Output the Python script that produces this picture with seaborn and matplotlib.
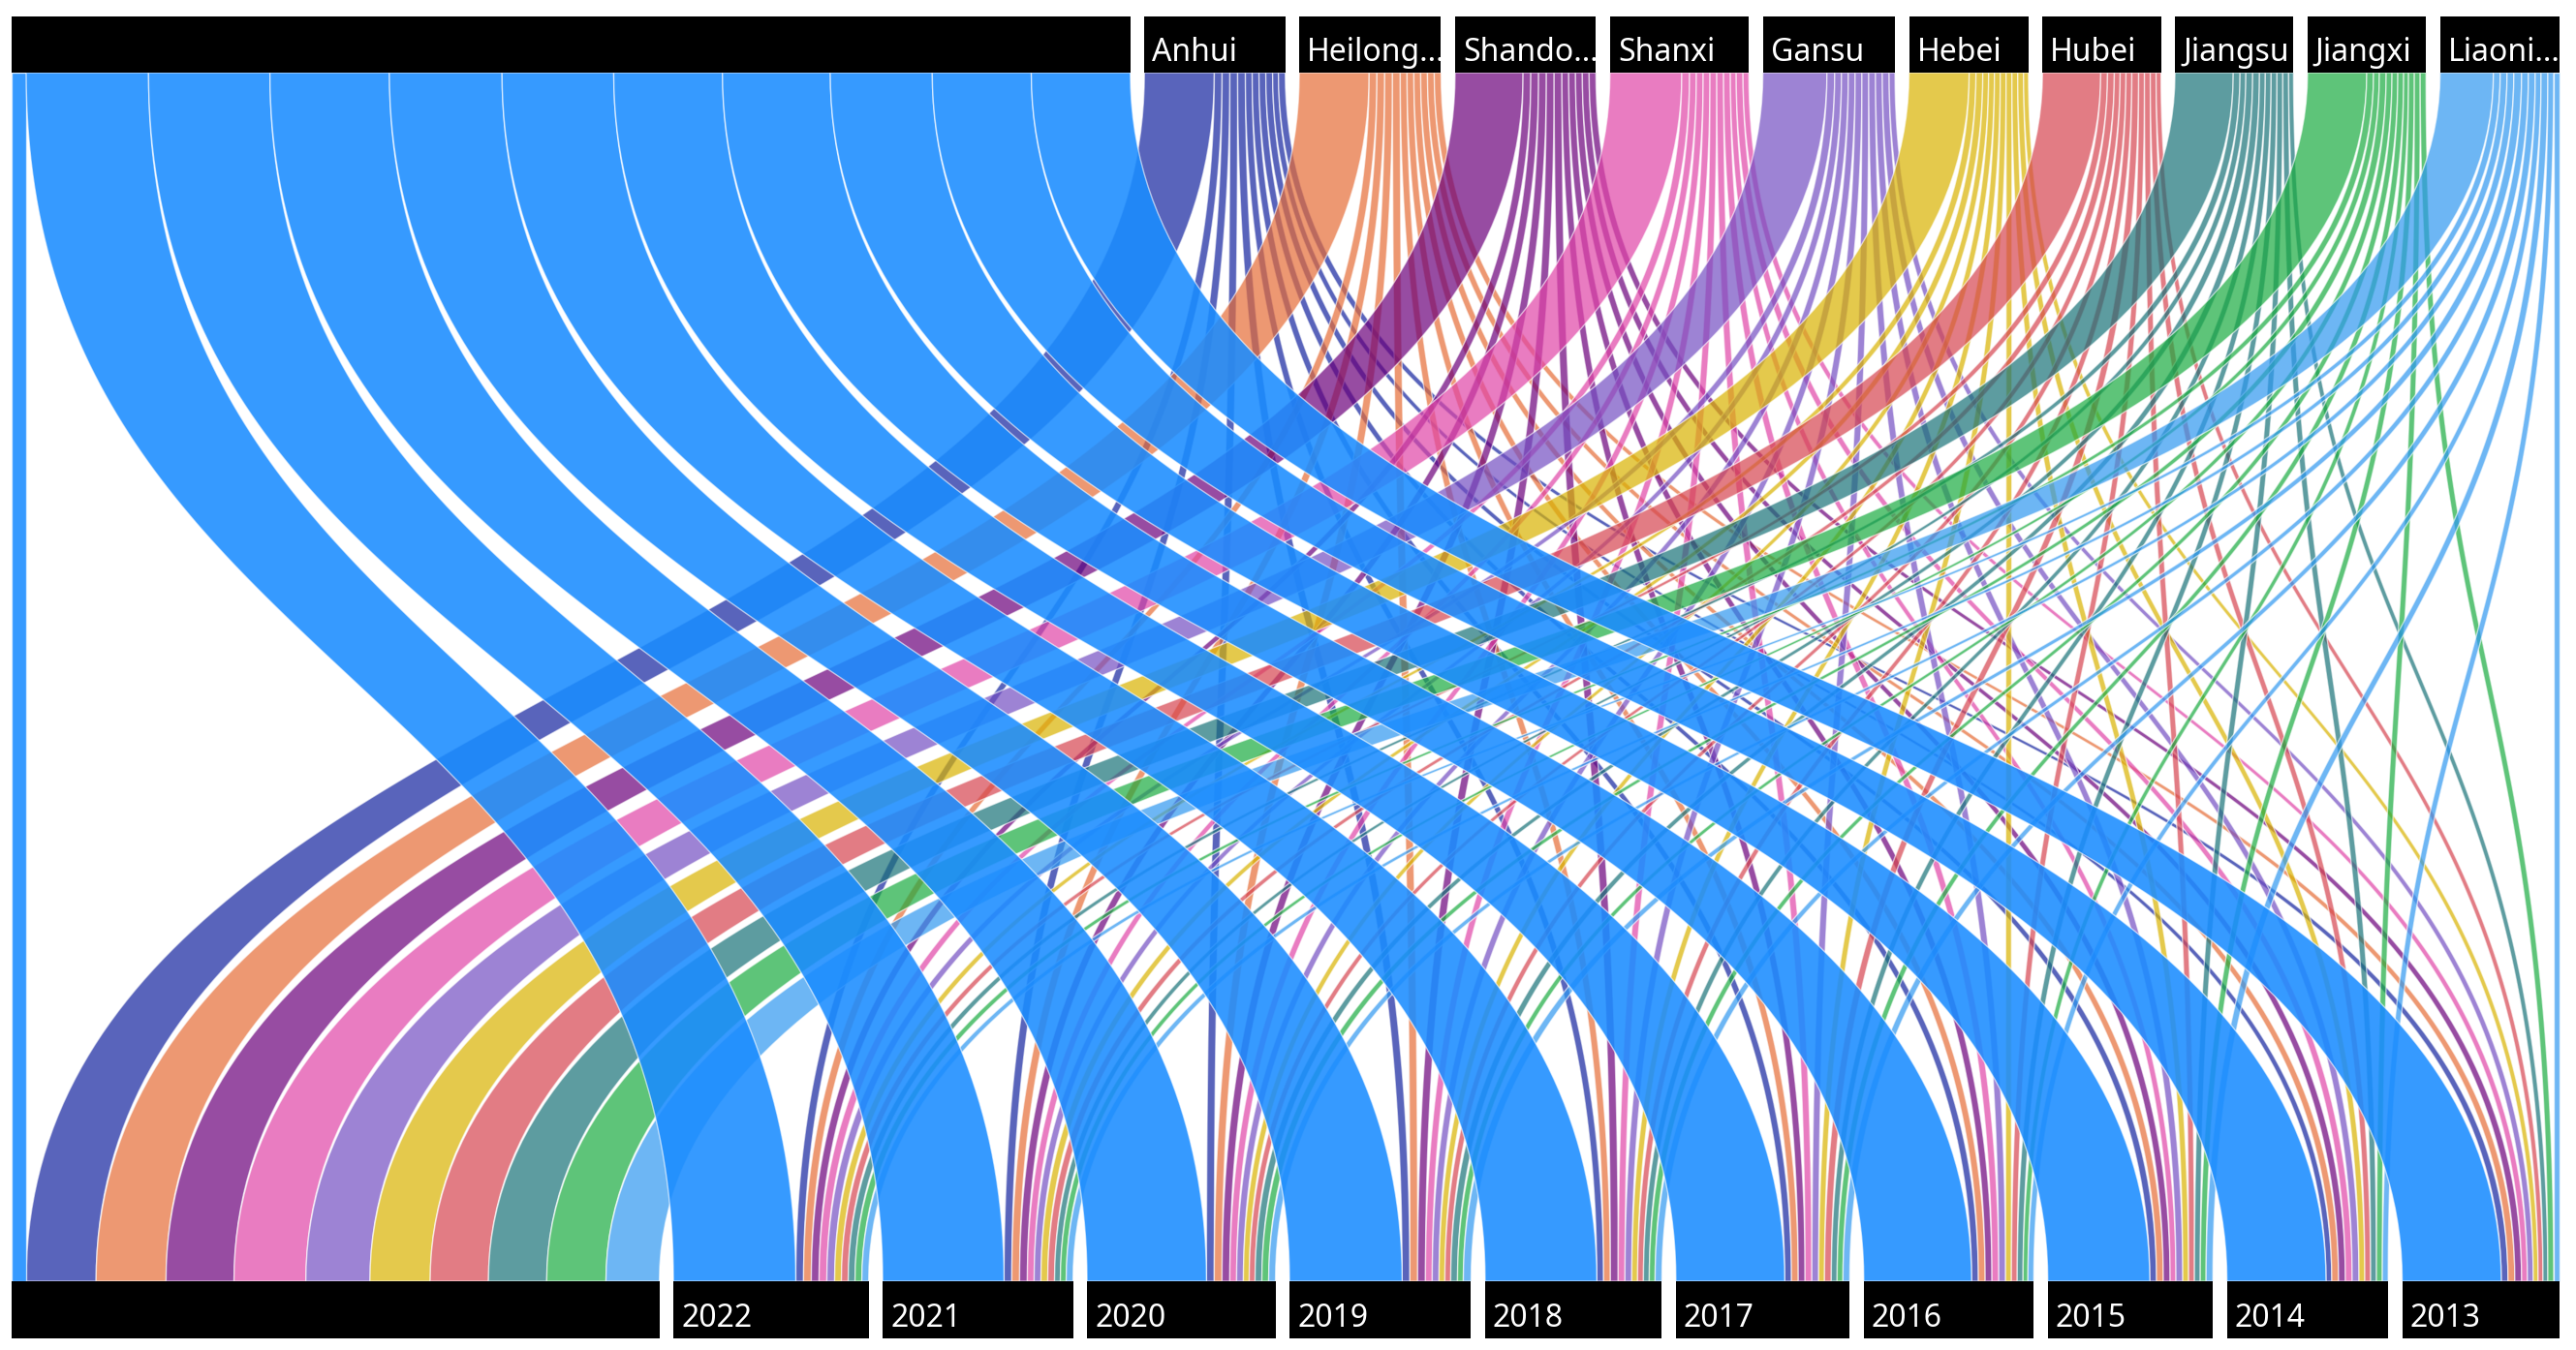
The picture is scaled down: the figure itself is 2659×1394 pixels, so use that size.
import numpy as np
import pandas as pd
import matplotlib
matplotlib.use("Agg")
import matplotlib.pyplot as plt
from matplotlib.patches import Polygon, Rectangle
import seaborn as sns

# top dimension (province) and bottom dimension (year)
provinces = ["", "Anhui", "Heilongjiang", "Shandong", "Shanxi", "Gansu",
             "Hebei", "Hubei", "Jiangsu", "Jiangxi", "Liaoning"]
province_labels = ["", "Anhui", "Heilong...", "Shando...", "Shanxi", "Gansu",
                   "Hebei", "Hubei", "Jiangsu", "Jiangxi", "Liaoni..."]
years = ["", "2022", "2021", "2020", "2019", "2018", "2017", "2016", "2015", "2014", "2013"]

# flows of the unnamed (big) province into each year column
blank_province = [15, 126, 125, 123, 116, 115, 112, 111, 105, 102, 102]

# flows of each named province into the unnamed year column
to_blank_year = [72, 72, 70, 74, 66, 62, 60, 60, 61, 55]

# flows of each named province into 2022 ... 2013
anhui = [8, 8, 8, 8, 7, 7, 7, 7, 6, 7]
heilongjiang = [8, 8, 8, 8, 7, 7, 7, 7, 7, 7]
shandong = [8, 8, 8, 8, 8, 7, 7, 7, 7, 7]
shanxi = [8, 7, 7, 7, 7, 7, 7, 6, 7, 6]
gansu = [8, 7, 7, 7, 7, 7, 7, 7, 7, 6]
hebei = [7, 7, 6, 6, 6, 6, 6, 6, 6, 5]
hubei = [7, 7, 6, 6, 6, 7, 6, 6, 6, 5]
jiangsu = [7, 6, 7, 7, 6, 6, 6, 6, 6, 5]
jiangxi = [7, 6, 7, 6, 6, 6, 5, 6, 6, 6]
liaoning = [7, 7, 7, 8, 7, 7, 6, 7, 6, 6]

year_rows = [anhui, heilongjiang, shandong, shanxi, gansu, hebei, hubei, jiangsu, jiangxi, liaoning]
flows = pd.DataFrame([blank_province] + [[b] + r for b, r in zip(to_blank_year, year_rows)],
                     index=range(len(provinces)), columns=range(len(years)))

colors = sns.color_palette(["#1A8CFF", "#12239E", "#E66C37", "#6B007B", "#E044A7", "#744EC2",
                            "#D9B300", "#D64550", "#197278", "#1AAB40", "#2F98F0"])

sns.set_theme(style="white")
plt.rcParams["font.family"] = ["Noto Sans", "DejaVu Sans"]

W, H = 2659, 1394
LEFT, RIGHT = 12, 2642
GAP = 14.5
TOP_BOX = (17, 75)
BOT_BOX = (1323, 1382)

total = flows.values.sum()
n = len(provinces)
scale = (RIGHT - LEFT - GAP * (n - 1)) / total

row_tot = flows.sum(axis=1).values
col_tot = flows.sum(axis=0).values
top_left = LEFT + scale * np.concatenate([[0], np.cumsum(row_tot)[:-1]]) + GAP * np.arange(n)
bot_left = LEFT + scale * np.concatenate([[0], np.cumsum(col_tot)[:-1]]) + GAP * np.arange(len(years))

# ribbon end positions
top_off = {}
for i in range(n):
    x = top_left[i]
    for j in range(len(years)):
        w = flows.iat[i, j] * scale
        top_off[(i, j)] = (x, x + w)
        x += w
bot_off = {}
for j in range(len(years)):
    x = bot_left[j]
    for i in range(n):
        w = flows.iat[i, j] * scale
        bot_off[(i, j)] = (x, x + w)
        x += w

fig = plt.figure(figsize=(W / 100, H / 100), dpi=100)
ax = fig.add_axes([0, 0, 1, 1])
ax.set_xlim(0, W)
ax.set_ylim(H, 0)
ax.axis("off")

t = np.linspace(0, 1, 120)
sx = 3 * t ** 2 - 2 * t ** 3
yt, yb = TOP_BOX[1], BOT_BOX[0]
yy = yt + (yb - yt) * (1.5 * t * (1 - t) + t ** 3)

order = list(range(1, n)) + [0]
for i in order:
    alpha = 0.88 if i == 0 else 0.7
    for j in range(len(years)):
        if flows.iat[i, j] <= 0:
            continue
        a0, a1 = top_off[(i, j)]
        b0, b1 = bot_off[(i, j)]
        xl = a0 + (b0 - a0) * sx
        xr = a1 + (b1 - a1) * sx
        pts = np.column_stack([np.concatenate([xl, xr[::-1]]), np.concatenate([yy, yy[::-1]])])
        ax.add_patch(Polygon(pts, closed=True, facecolor=(*colors[i], alpha),
                             edgecolor=(1, 1, 1, 0.6), linewidth=1.0, zorder=1))

def node_boxes(lefts, widths, box, labels):
    for x0, w, lab in zip(lefts, widths, labels):
        rect = Rectangle((x0, box[0]), w, box[1] - box[0], facecolor="black",
                         edgecolor="none", zorder=3)
        ax.add_patch(rect)
        txt = ax.text(x0 + 8, box[1] - 12, lab, color="white", fontsize=23,
                      ha="left", va="baseline", zorder=4)
        txt.set_clip_path(rect)

node_boxes(top_left, row_tot * scale, TOP_BOX, province_labels)
node_boxes(bot_left, col_tot * scale, BOT_BOX, years)

fig.savefig("out.png", dpi=100, facecolor="white")
